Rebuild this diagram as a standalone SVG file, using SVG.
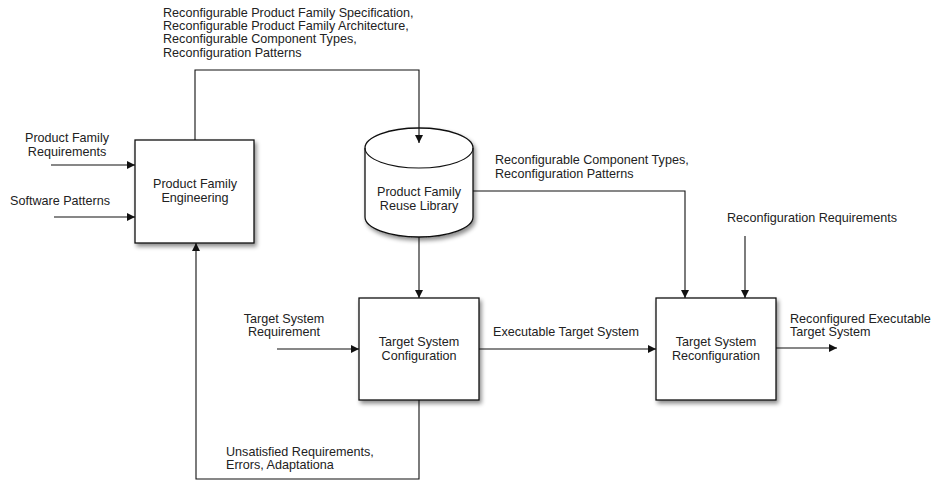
<svg xmlns="http://www.w3.org/2000/svg" width="932" height="483" viewBox="0 0 932 483">
  <style>
    text { font-family: "Liberation Sans", Arial, sans-serif; font-size: 12.6px; fill: #222; }
    .mid { text-anchor: middle; }
    .node { fill: #fff; stroke: #111; stroke-width: 1.3; }
    .wire { fill: none; stroke: #111; stroke-width: 1.1; }
  </style>
  <defs>
    <marker id="arrow" viewBox="0 0 10 10" refX="10" refY="5" markerWidth="8" markerHeight="8" markerUnits="userSpaceOnUse" orient="auto">
      <path d="M0,0 L10,5 L0,10 z" fill="#111"/>
    </marker>
    <filter id="shadow" x="-20%" y="-20%" width="150%" height="150%">
      <feDropShadow dx="2" dy="3" stdDeviation="2" flood-color="#000" flood-opacity="0.45"/>
    </filter>
  </defs>
  <rect width="932" height="483" fill="#fff"/>

  <g id="product-family-engineering">
    <rect class="node" x="135" y="140" width="119" height="103" filter="url(#shadow)"/>
    <text class="mid" x="195" y="188">Product Family</text>
    <text class="mid" x="195" y="202">Engineering</text>
  </g>

  <g id="product-family-reuse-library">
    <path class="node" d="M365,148 A54,20 0 0 1 473,148 V217 A54,20 0 0 1 365,217 Z" filter="url(#shadow)"/>
    <path class="wire" d="M365,148 A54,20 0 0 0 473,148"/>
    <text class="mid" x="419" y="196">Product Family</text>
    <text class="mid" x="419" y="210">Reuse Library</text>
  </g>

  <g id="target-system-configuration">
    <rect class="node" x="359" y="298" width="120" height="102" filter="url(#shadow)"/>
    <text class="mid" x="419" y="346">Target System</text>
    <text class="mid" x="419" y="360">Configuration</text>
  </g>

  <g id="target-system-reconfiguration">
    <rect class="node" x="656" y="298" width="120" height="102" filter="url(#shadow)"/>
    <text class="mid" x="716" y="346">Target System</text>
    <text class="mid" x="716" y="360">Reconfiguration</text>
  </g>

  <!-- connectors, drawn over the nodes so the arrow onto the library lid shows -->
  <g id="connectors">
    <path class="wire" d="M195,140 V70 H419 V143" marker-end="url(#arrow)"/>
    <path class="wire" d="M51,165 H135" marker-end="url(#arrow)"/>
    <path class="wire" d="M54,217 H135" marker-end="url(#arrow)"/>
    <path class="wire" d="M473,191 H685 V298" marker-end="url(#arrow)"/>
    <path class="wire" d="M419,237 V298" marker-end="url(#arrow)"/>
    <path class="wire" d="M277,349 H359" marker-end="url(#arrow)"/>
    <path class="wire" d="M479,349 H656" marker-end="url(#arrow)"/>
    <path class="wire" d="M745,236 V298" marker-end="url(#arrow)"/>
    <path class="wire" d="M776,348 H837" marker-end="url(#arrow)"/>
    <path class="wire" d="M419,400 V479 H196 V243" marker-end="url(#arrow)"/>
  </g>

  <!-- edge labels -->
  <g id="labels">
    <text x="163" y="17">Reconfigurable Product Family Specification,</text>
    <text x="163" y="30">Reconfigurable Product Family Architecture,</text>
    <text x="163" y="43">Reconfigurable Component Types,</text>
    <text x="163" y="57">Reconfiguration Patterns</text>
    <text class="mid" x="67" y="142">Product Family</text>
    <text class="mid" x="67" y="156">Requirements</text>
    <text x="10" y="205">Software Patterns</text>
    <text x="495" y="164">Reconfigurable Component Types,</text>
    <text x="495" y="178">Reconfiguration Patterns</text>
    <text class="mid" x="284" y="323">Target System</text>
    <text class="mid" x="284" y="336">Requirement</text>
    <text x="493" y="336">Executable Target System</text>
    <text x="727" y="222">Reconfiguration Requirements</text>
    <text x="790" y="323">Reconfigured Executable</text>
    <text x="790" y="336">Target System</text>
    <text x="226" y="456">Unsatisfied Requirements,</text>
    <text x="226" y="469">Errors, Adaptationa</text>
  </g>
</svg>
